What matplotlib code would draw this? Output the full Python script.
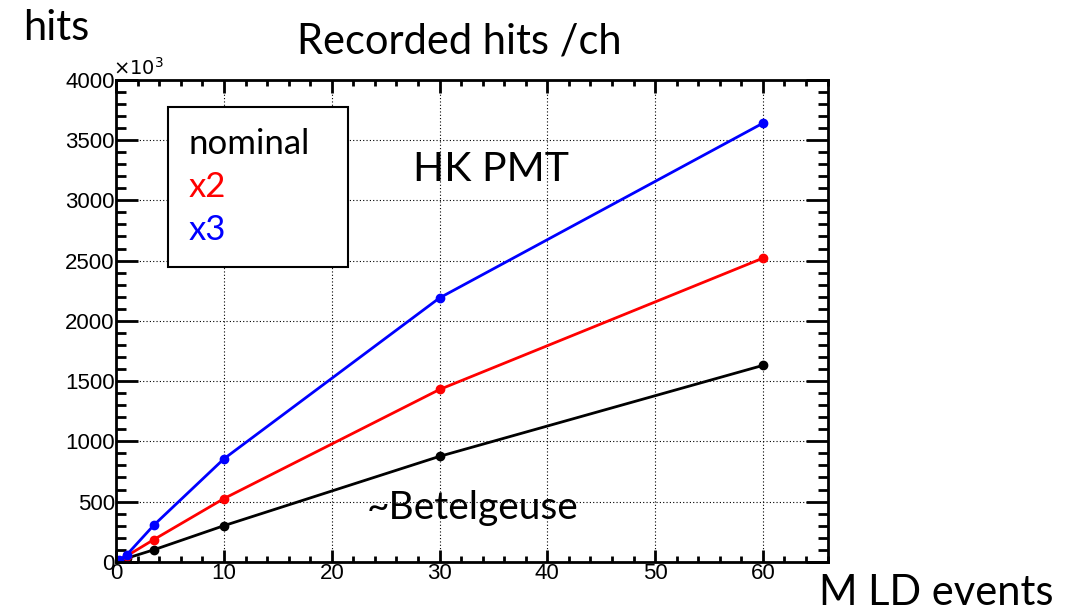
import numpy as np
import matplotlib.pyplot as plt
from matplotlib.ticker import MultipleLocator

# M LD events
events = [0.3, 1, 3.5, 10, 30, 60]
# recorded hits per channel (x10^3)
hits_nominal = [5, 30, 100, 300, 875, 1630]
hits_x2 = [10, 50, 185, 525, 1430, 2520]
hits_x3 = [15, 60, 305, 855, 2190, 3640]

series_labels = ["nominal", "x2", "x3"]
series_colors = ["black", "red", "blue"]

plt.rcParams["font.family"] = ["Liberation Sans", "DejaVu Sans"]
text_font = ["Lato", "DejaVu Sans"]

fig = plt.figure(figsize=(10.86, 6.14), dpi=100)
ax = fig.add_axes([0.107, 0.085, 0.655, 0.785])

handles = []
for ys, lab, col in zip([hits_nominal, hits_x2, hits_x3], series_labels, series_colors):
    (h,) = ax.plot(events, ys, color=col, lw=2, marker="o", ms=6, label=lab)
    handles.append(h)

ax.set_xlim(0, 66)
ax.set_ylim(0, 4000)
ax.xaxis.set_major_locator(MultipleLocator(10))
ax.xaxis.set_minor_locator(MultipleLocator(2))
ax.yaxis.set_major_locator(MultipleLocator(500))
ax.yaxis.set_minor_locator(MultipleLocator(100))
ax.grid(True, which="major", ls=(0, (1, 2)), color="black", lw=0.8)

ax.tick_params(axis="both", which="both", direction="in", top=True, right=True,
               width=2, labelsize=16)
ax.tick_params(axis="x", which="major", length=9, pad=1)
ax.tick_params(axis="x", which="minor", length=4.5)
ax.tick_params(axis="y", which="major", length=16, pad=1)
ax.tick_params(axis="y", which="minor", length=7)
for s in ax.spines.values():
    s.set_linewidth(2)

ax.text(-0.005, 1.003, r"$\times10^{3}$", transform=ax.transAxes, fontsize=14,
        ha="left", va="bottom")

# legend box: text only, expanded to the boxed width of the reference
leg = ax.legend(handles=handles, loc="upper left", mode="expand",
                bbox_to_anchor=(0.0725, 0.0, 0.253, 0.943),
                handlelength=0, handletextpad=0, labelcolor="linecolor",
                prop={"family": text_font, "size": 25}, fancybox=False,
                edgecolor="black", framealpha=1, borderpad=0.6, labelspacing=0.32,
                borderaxespad=0)
leg.get_frame().set_linewidth(1.5)
for h in leg.legend_handles:
    h.set_visible(False)

ax.text(0.527, 0.813, "HK PMT", transform=ax.transAxes, fontsize=29.5,
        family=text_font, ha="center", va="center")
ax.text(0.501, 0.112, "~Betelgeuse", transform=ax.transAxes, fontsize=28,
        family=text_font, ha="center", va="center")

fig.text(0.423, 0.932, "Recorded hits /ch", fontsize=30, family=text_font,
         ha="center", va="center")
fig.text(0.052, 0.955, "hits", fontsize=30, family=text_font, ha="center", va="center")
fig.text(0.862, 0.034, "M LD events", fontsize=30, family=text_font,
         ha="center", va="center")

fig.savefig("out.png", dpi=100)
